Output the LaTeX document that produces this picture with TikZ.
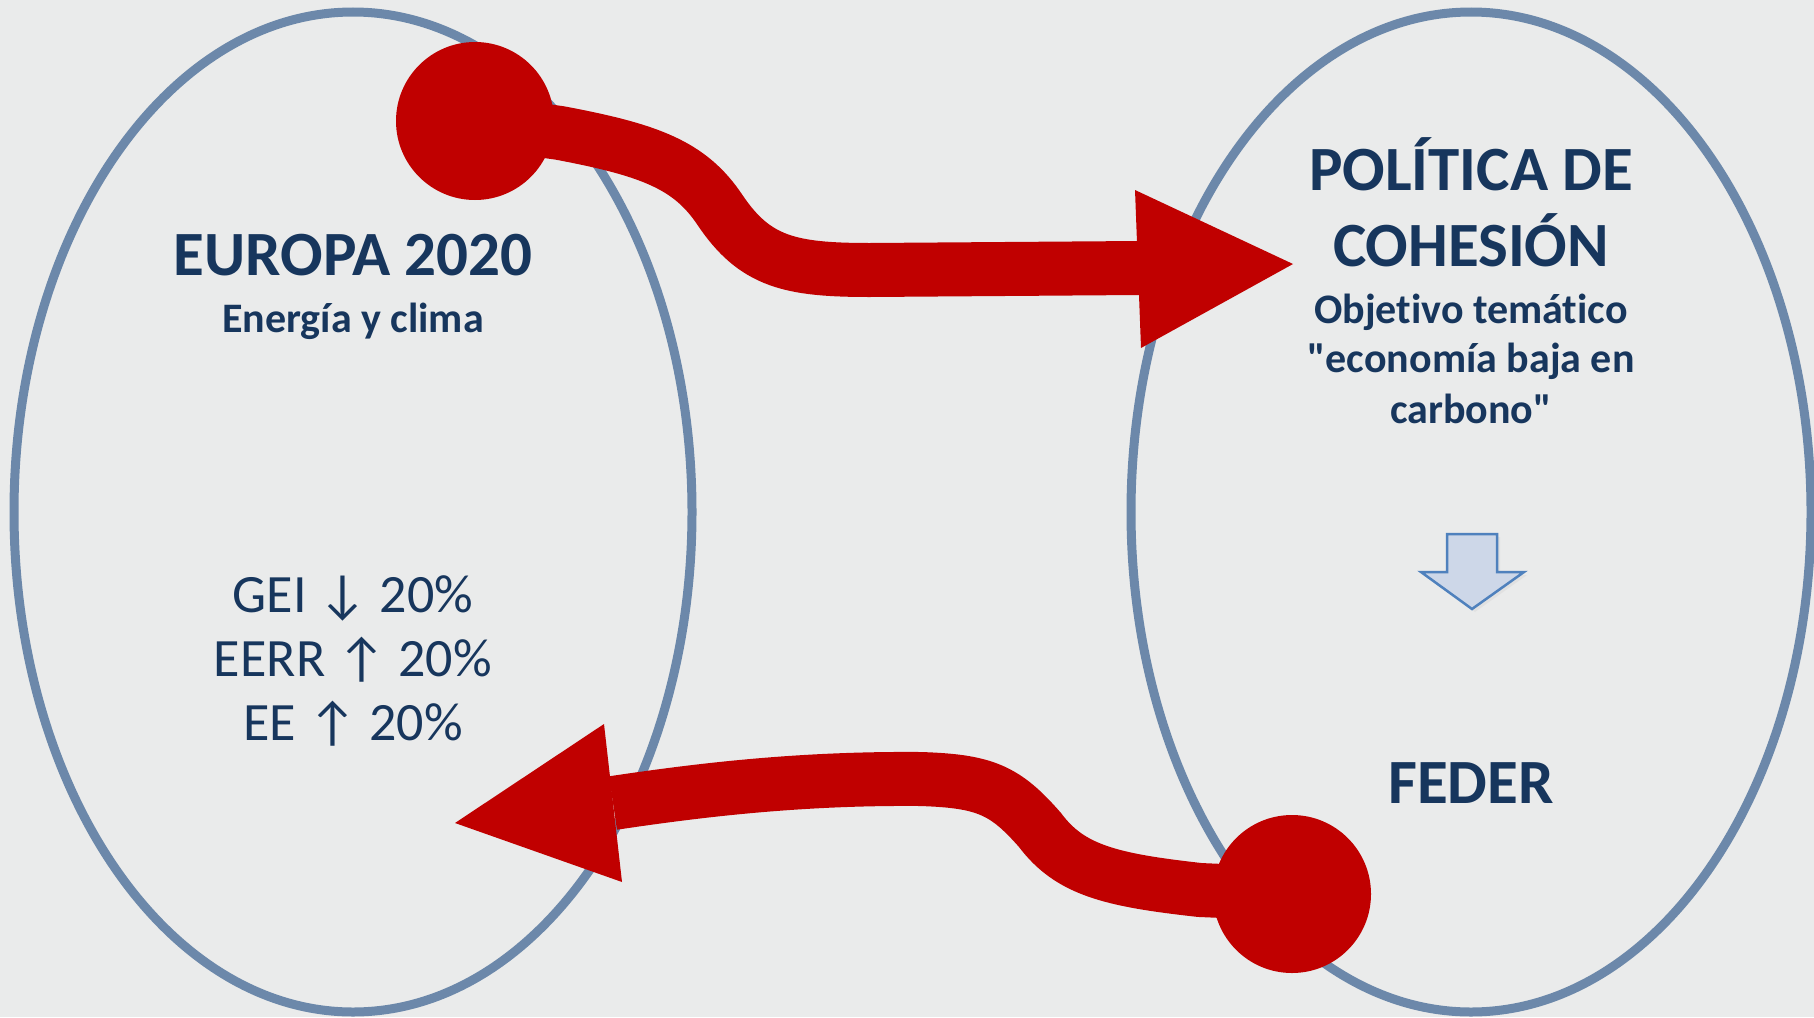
\documentclass[tikz,border=0pt]{standalone}
\usepackage{fontspec}
\setmainfont{Carlito}[Ligatures={TeXOff,NoCommon}]
\usetikzlibrary{shapes.geometric}
\definecolor{bgpaper}{RGB}{234,235,235}
\definecolor{ringcol}{RGB}{108,136,170}
\definecolor{redcol}{RGB}{192,0,0}
\definecolor{navy}{RGB}{23,54,93}
\definecolor{blockfill}{RGB}{205,215,232}
\definecolor{blockline}{RGB}{79,129,189}
\tikzset{
  ring/.style={ellipse, draw=ringcol, line width=9pt, inner sep=0pt},
  blob/.style={circle, fill=redcol, inner sep=0pt, minimum size=158pt},
  shaft/.style={draw=redcol, line width=54pt, line cap=butt},
  headfill/.style={fill=redcol},
  titletext/.style={text=navy, font=\bfseries\fontsize{63}{68}\selectfont, anchor=base, inner sep=0pt},
  subtext/.style={text=navy, font=\bfseries\fontsize{42}{46}\selectfont, anchor=base, inner sep=0pt},
  listtext/.style={text=navy, font=\fontsize{54}{60}\selectfont, anchor=base, inner sep=0pt},
}
\begin{document}
\begin{tikzpicture}[x=1pt,y=-1pt]
\useasboundingbox (0,0) rectangle (1814,1017);
\fill[bgpaper] (0,0) rectangle (1814,1017);

% ellipses
\node[ring, minimum width=678pt, minimum height=1000pt] (europe) at (353,512) {};
\node[ring, minimum width=680pt, minimum height=1000pt] (cohesion) at (1471,512) {};

% top arrow
\node[blob] (src1) at (475,121) {};
\coordinate (end1) at (1139,268);
\draw[shaft] (src1.center) -- (560,133) .. controls (650,150) and (690,165) .. (720,210)
  .. controls (755,262) and (790,270) .. (870,270) -- (end1);
\coordinate (tip1) at (1293,264);
\fill[headfill] (1135,190) -- (tip1) -- (1141,348) -- cycle;

% bottom arrow
\node[blob] (src2) at (1292,894) {};
\coordinate (end2) at (613,803);
\draw[shaft] (src2.center) -- (1200,890) .. controls (1110,880) and (1070,870) .. (1040,830)
  .. controls (1005,790) and (985,781) .. (920,779)
  .. controls (800,778) and (700,790) .. (end2);
\coordinate (tip2) at (455,823);
\fill[headfill] (604,724) -- (tip2) -- (622,882) -- cycle;

% block arrow down
\fill[black!15, opacity=0.5] (1450,537) -- (1500,537) -- (1500,575) -- (1527,575) -- (1475,612) -- (1424,575) -- (1450,575) -- cycle;
\filldraw[fill=blockfill, draw=blockline, line width=2.5pt, line join=miter]
  (1447,534) -- (1497,534) -- (1497,572) -- (1524,572) -- (1472,609) -- (1421,572) -- (1447,572) -- cycle;

% left texts
\node[titletext] (eu) at (353,275) {EUROPA 2020};
\node[subtext] (ec) at (353,332) {Energía y clima};
\node[listtext] (l1) at (353,612) {GEI ↓ 20\%};
\node[listtext] (l2) at (353,676) {EERR ↑ 20\%};
\node[listtext] (l3) at (353,740) {EE ↑ 20\%};

% right texts
\node[titletext] (r1) at (1471,190) {POLÍTICA DE};
\node[titletext] (r2) at (1471,266) {COHESIÓN};
\node[subtext] (r3) at (1471,323) {Objetivo temático};
\node[subtext] (r4) at (1471,372) {"economía baja en};
\node[subtext] (r5) at (1471,423) {carbono"};
\node[titletext] (r6) at (1471,803) {FEDER};
\end{tikzpicture}
\end{document}
